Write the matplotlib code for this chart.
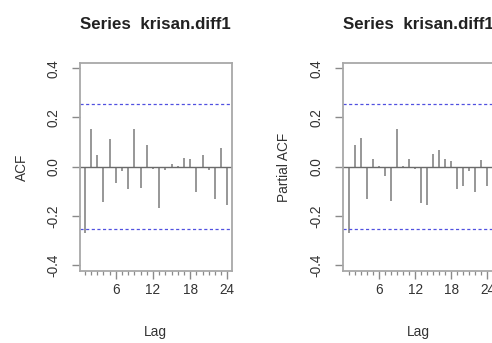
import matplotlib
matplotlib.use("Agg")
import matplotlib.pyplot as plt
from matplotlib.ticker import FixedLocator

plt.rcParams['font.family'] = ['Liberation Sans', 'DejaVu Sans']

title = "Series  krisan.diff1"
lags = list(range(1, 25))
acf_vals = [-0.268, 0.154, 0.046, -0.143, 0.114, -0.068, -0.018, -0.089,
            0.154, -0.088, 0.089, -0.008, -0.169, -0.014, 0.012, 0.004,
            0.034, 0.030, -0.103, 0.046, -0.014, -0.130, 0.076, -0.154]
pacf_vals = [-0.268, 0.086, 0.115, -0.130, 0.030, 0.003, -0.038, -0.139,
             0.151, 0.002, 0.032, -0.008, -0.149, -0.157, 0.053, 0.066,
             0.031, 0.022, -0.089, -0.078, -0.019, -0.105, 0.027, -0.078]
conf = 0.255
yticks = [-0.4, -0.2, 0.0, 0.2, 0.4]
ytick_labels = ["-0.4", "-0.2", "0.0", "0.2", "0.4"]
xticks_major = [6, 12, 18, 24]
ylabels = ["ACF", "Partial ACF"]

W, H = 492, 343
fig = plt.figure(figsize=(W / 100, H / 100), dpi=100)
fig.patch.set_facecolor('white')

box_w = 151.7 / W
box_b = 72 / H
box_h = 207.7 / H
lefts = [80 / W, 342.7 / W]
xlims = [(0.24, 24.71), (-0.01, 25.15)]
series = [acf_vals, pacf_vals]

for i in range(2):
    ax = fig.add_axes([lefts[i], box_b, box_w, box_h])
    ax.set_xlim(*xlims[i])
    ax.set_ylim(-0.424, 0.420)
    ax.vlines(lags, 0, series[i], color='#7a7a7a', lw=1.1)
    ax.axhline(0, color='#6a6a6a', lw=1.0)
    for c in (conf, -conf):
        ax.axhline(c, color='#5050e0', lw=0.9, ls=(0, (2.5, 2)))
    for s in ax.spines.values():
        s.set_color('#a8a8a8')
        s.set_linewidth(1.3)
    ax.yaxis.set_major_locator(FixedLocator(yticks))
    ax.set_yticklabels(ytick_labels, rotation=90, va='center',
                       fontsize=9.8, color='#333333')
    ax.xaxis.set_major_locator(FixedLocator(xticks_major))
    ax.xaxis.set_minor_locator(FixedLocator(lags))
    ax.set_xticklabels([str(t) for t in xticks_major], fontsize=9.8,
                       color='#333333')
    ax.tick_params(axis='y', length=6, width=1.0, color='#8a8a8a', pad=8)
    ax.tick_params(axis='x', which='major', length=6, width=1.0,
                   color='#8a8a8a', pad=3)
    ax.tick_params(axis='x', which='minor', length=3, width=0.9,
                   color='#8a8a8a')
    ax.set_xlabel("Lag", fontsize=9.8, color='#333333', labelpad=20)
    ax.set_ylabel(ylabels[i], fontsize=9.8, color='#333333', labelpad=13)
    ax.set_title(title, fontsize=12.2, fontweight='bold', color='#222222',
                 pad=25)

fig.savefig("out.png", dpi=100, facecolor='white')
